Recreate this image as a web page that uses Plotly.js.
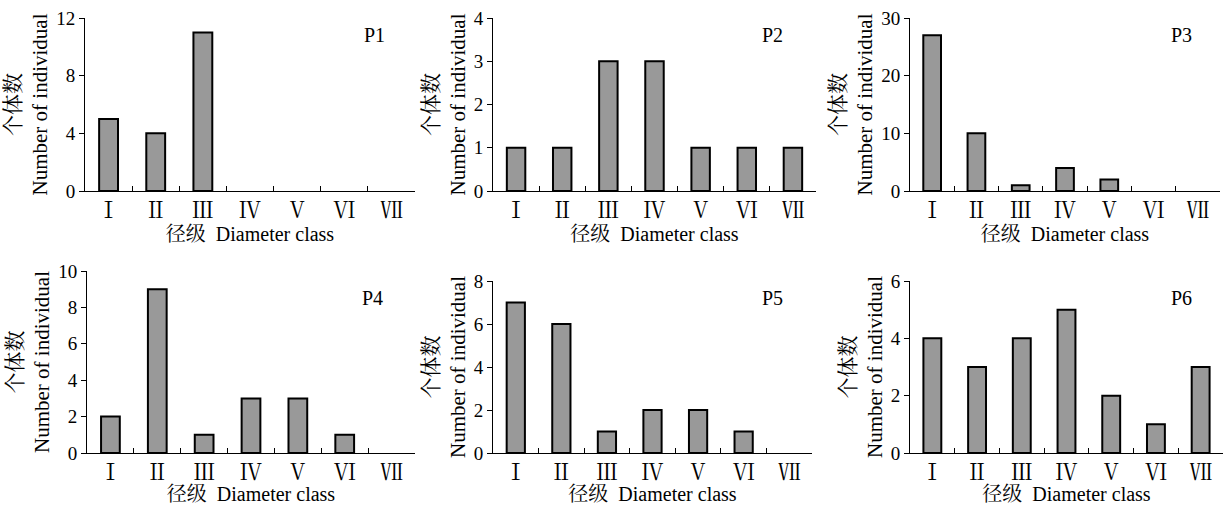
<!DOCTYPE html>
<html>
<head>
<meta charset="utf-8">
<script src="https://cdn.plot.ly/plotly-3.0.1.min.js"></script>
<style>html,body{margin:0;padding:0;background:#fff;}#chart{width:1227px;height:505px;}</style>
</head>
<body>
<div id="chart"></div>
<script>
// Diameter classes
const categories = ['Ⅰ','Ⅱ','Ⅲ','Ⅳ','Ⅴ','Ⅵ','Ⅶ'];
// Number of individuals per plot
const p1 = [5, 4, 11, 0, 0, 0, 0];
const p2 = [1, 1, 3, 3, 1, 1, 1];
const p3 = [27, 10, 1, 4, 2, 0, 0];
const p4 = [2, 9, 1, 3, 3, 1, 0];
const p5 = [7, 6, 1, 2, 2, 1, 0];
const p6 = [4, 3, 4, 5, 2, 1, 3];
const plotNames = ['P1','P2','P3','P4','P5','P6'];
const yMax = [12, 4, 30, 10, 8, 6];
const yStep = [4, 1, 10, 2, 2, 2];
const xTitle = '径级  Diameter class';
const yTitle = '个体数<br>Number of individual';

const series = [p1, p2, p3, p4, p5, p6];
const FONT = 'Liberation Serif, Times New Roman, Noto Serif CJK SC, Noto Sans CJK SC, serif';

const W = 1227, H = 505;
// pixel boxes [left, right, top, bottom]
const boxes = [
  [85, 415, 18, 191],
  [493, 816, 18, 191],
  [910, 1220, 18, 191],
  [87, 415, 271, 453],
  [493, 812, 281, 453],
  [910, 1223, 281, 453]
];
const labelPos = [[0.878,0.90],[0.864,0.90],[0.877,0.90],[0.869,0.852],[0.875,0.90],[0.869,0.90]];

const data = [];
const layout = {
  width: W, height: H,
  margin: {l:0, r:0, t:0, b:0},
  paper_bgcolor: '#fff', plot_bgcolor: '#fff',
  showlegend: false,
  font: {family: FONT, size: 19, color: '#000'},
  annotations: []
};

series.forEach((vals, i) => {
  const n = i + 1;
  const sx = n === 1 ? '' : String(n);
  data.push({
    type: 'bar',
    x: categories,
    y: vals,
    xaxis: 'x' + sx,
    yaxis: 'y' + sx,
    width: 0.4,
    marker: {color: '#999999', line: {color: '#000', width: vals.map(v => v === 0 ? 0 : 2)}},
    hoverinfo: 'x+y'
  });
  const b = boxes[i];
  layout['xaxis' + sx] = {
    domain: [b[0] / W, b[1] / W],
    anchor: 'y' + sx,
    type: 'category',
    categoryorder: 'array',
    categoryarray: categories,
    range: [-0.5, 6.5],
    showline: true, linecolor: '#000', linewidth: 1,
    ticks: 'inside', tickson: 'boundaries', ticklen: 5, tickcolor: '#000', tickwidth: 1,
    showgrid: false, zeroline: false,
    tickfont: {family: FONT, size: 22},
    title: {text: xTitle, font: {family: FONT, size: 20}, standoff: 4},
    automargin: false,
    fixedrange: true
  };
  layout['yaxis' + sx] = {
    domain: [1 - b[3] / H, 1 - b[2] / H],
    anchor: 'x' + sx,
    range: [0, yMax[i]],
    tickmode: 'linear', tick0: 0, dtick: yStep[i],
    showline: true, linecolor: '#000', linewidth: 1,
    ticks: 'outside', ticklen: 5, tickcolor: '#000', tickwidth: 1,
    showgrid: false, zeroline: false,
    tickfont: {family: FONT, size: 19},
    title: {text: yTitle, font: {family: FONT, size: 21}, standoff: 2},
    automargin: false,
    fixedrange: true
  };
  layout.annotations.push({
    xref: 'x' + sx + ' domain', yref: 'y' + sx + ' domain',
    x: labelPos[i][0], y: labelPos[i][1],
    text: plotNames[i], showarrow: false,
    font: {family: FONT, size: 20, color: '#000'},
    xanchor: 'center', yanchor: 'middle'
  });
});

Plotly.newPlot('chart', data, layout, {displayModeBar: false, staticPlot: true});
</script>
</body>
</html>
